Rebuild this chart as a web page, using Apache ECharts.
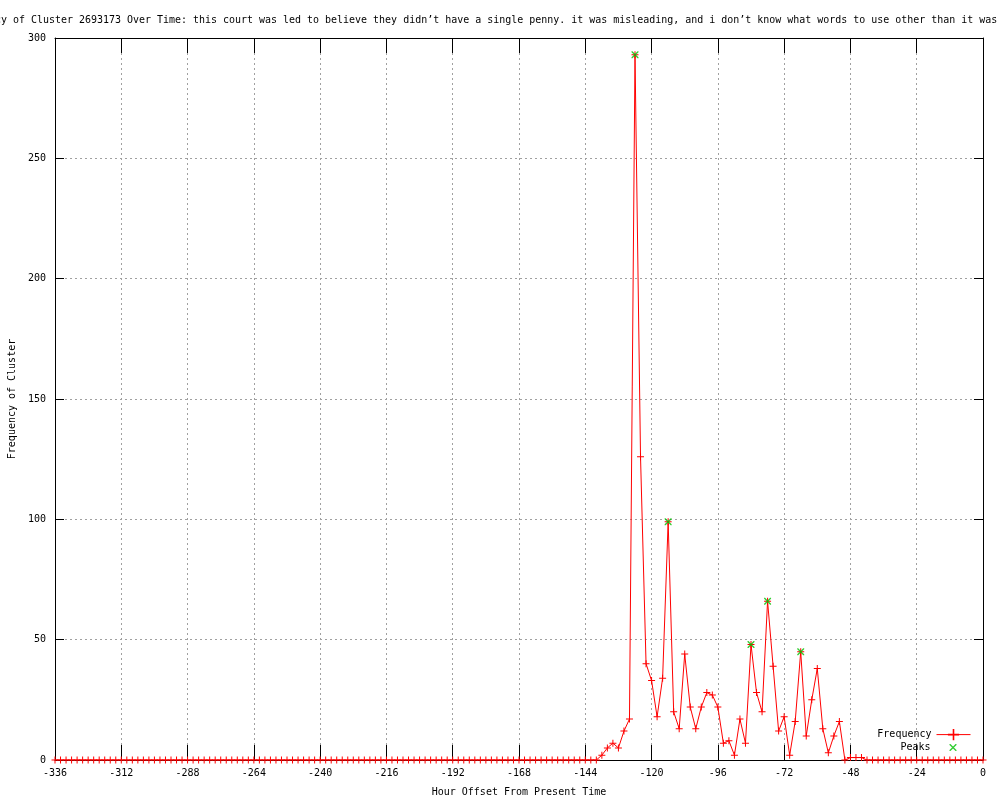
<!DOCTYPE html>
<html><head><meta charset="utf-8">
<script src="https://cdn.jsdelivr.net/npm/echarts@6/dist/echarts.min.js"></script>
<style>html,body{margin:0;padding:0;background:#fff}#c{width:1000px;height:800px}</style>
</head><body><div id="c"></div>
<script>
// x: hour offsets, one bin every 2 hours from -336 to 0
const hourStart = -336;
const hourStep = 2;
// frequency per bin (169 bins, -336 .. 0)
const frequency = [
  0,0,0,0,0,0,0,0,0,0, 0,0,0,0,0,0,0,0,0,0,
  0,0,0,0,0,0,0,0,0,0, 0,0,0,0,0,0,0,0,0,0,
  0,0,0,0,0,0,0,0,0,0, 0,0,0,0,0,0,0,0,0,0,
  0,0,0,0,0,0,0,0,0,0, 0,0,0,0,0,0,0,0,0,0,
  0,0,0,0,0,0,0,0,0,0, 0,0,0,0,0,0,0,0,0,
  2,5,7,5,12,17,
  293,126,40,33,18,34,
  99,20,13,44,22,13,
  22,28,27,22,7,8,
  2,17,7,48,28,20,
  66,39,12,18,2,16,
  45,10,25,38,13,3,
  10,16,0,1,1,1,
  0,0,0,0,0,0,0,0,0,0, 0,0,0,0,0,0,0,0,0,0, 0,0
];
const peakHours = [-126, -114, -84, -78, -66];
const peakValues = [293, 99, 48, 66, 45];
const xTicks = [-336,-312,-288,-264,-240,-216,-192,-168,-144,-120,-96,-72,-48,-24,0];
const yTicks = [0,50,100,150,200,250,300];
const titleText = "Frequency of Cluster 2693173 Over Time: this court was led to believe they didn\u2019t have a single penny. it was misleading, and i don\u2019t know what words to use other than it was";
const xName = "Hour Offset From Present Time";
const yName = "Frequency of Cluster";

const freqData = frequency.map((v, i) => [hourStart + i * hourStep, v]);
const peakData = peakHours.map((h, i) => [h, peakValues[i]]);

const FONT = "DejaVu Sans Mono";
const plusPath = 'path://M3,0h1v7h-1zM0,3h7v1h-7z';
const crossPath = 'path://M0,0h1l6,6v1h-1l-6,-6zM6,0h1v1l-6,6h-1v-1z';
const gridLine = {show: true, lineStyle: {color: '#a0a0a0', type: [2, 3], width: 1}};
const txt = {fontFamily: FONT, fontSize: 10, color: '#000'};

const xBase = {type: 'value', min: xTicks[0], max: xTicks[xTicks.length-1], interval: xTicks[1]-xTicks[0]};
const yBase = {type: 'value', min: yTicks[0], max: yTicks[yTicks.length-1], interval: yTicks[1]-yTicks[0]};

const chart = echarts.init(document.getElementById('c'), null, {renderer: 'canvas'});
chart.setOption({
  animation: false,
  backgroundColor: '#fff',
  title: {text: titleText, left: -47, top: 15, padding: 0, textStyle: {fontFamily: FONT, fontSize: 9.97, fontWeight: 'normal', color: '#000'}},
  grid: {left: 55, right: 17, top: 38, bottom: 40, containLabel: false, outerBoundsMode: 'none'},
  legend: [
    {data: ['Frequency'], align: 'right', right: 29, top: 729, itemWidth: 34, itemHeight: 14, textStyle: txt, padding: 0,
      lineStyle: {width: 1}},
    {data: [{name: 'Peaks', icon: crossPath}], align: 'right', right: 43.5, top: 742.5, itemWidth: 7, itemHeight: 7,
      textStyle: Object.assign({padding: [0, 14, 0, 0]}, txt), padding: 0}
  ],
  xAxis: [
    Object.assign({}, xBase, {position: 'bottom', name: xName, nameLocation: 'middle', nameGap: 27, nameTextStyle: txt,
      axisLine: {show: true, onZero: false, lineStyle: {color: '#000', width: 1}},
      axisTick: {show: true, inside: true, length: 15, lineStyle: {color: '#000'}},
      axisLabel: Object.assign({margin: 8}, txt),
      splitLine: gridLine}),
    Object.assign({}, xBase, {position: 'top',
      axisLine: {show: true, onZero: false, lineStyle: {color: '#000', width: 1}},
      axisTick: {show: true, inside: true, length: 15, lineStyle: {color: '#000'}},
      axisLabel: {show: false}, splitLine: {show: false}})
  ],
  yAxis: [
    Object.assign({}, yBase, {position: 'left', name: yName, nameLocation: 'middle', nameGap: 36, nameRotate: 90, nameTextStyle: txt,
      axisLine: {show: true, onZero: false, lineStyle: {color: '#000', width: 1}},
      axisTick: {show: true, inside: true, length: 9, lineStyle: {color: '#000'}},
      axisLabel: Object.assign({margin: 9}, txt),
      splitLine: gridLine}),
    Object.assign({}, yBase, {position: 'right',
      axisLine: {show: true, onZero: false, lineStyle: {color: '#000', width: 1}},
      axisTick: {show: true, inside: true, length: 9, lineStyle: {color: '#000'}},
      axisLabel: {show: false}, splitLine: {show: false}})
  ],
  series: [
    {name: 'Frequency', type: 'line', data: freqData, xAxisIndex: 0, yAxisIndex: 0,
      symbol: plusPath, symbolSize: 7, showAllSymbol: true,
      lineStyle: {color: '#ff0000', width: 1}, itemStyle: {color: '#ff0000', borderWidth: 0}, z: 3},
    {name: 'Peaks', type: 'scatter', data: peakData, xAxisIndex: 0, yAxisIndex: 0,
      symbol: crossPath, symbolSize: 7, itemStyle: {color: '#00c000'}, z: 4}
  ]
});
</script></body></html>
